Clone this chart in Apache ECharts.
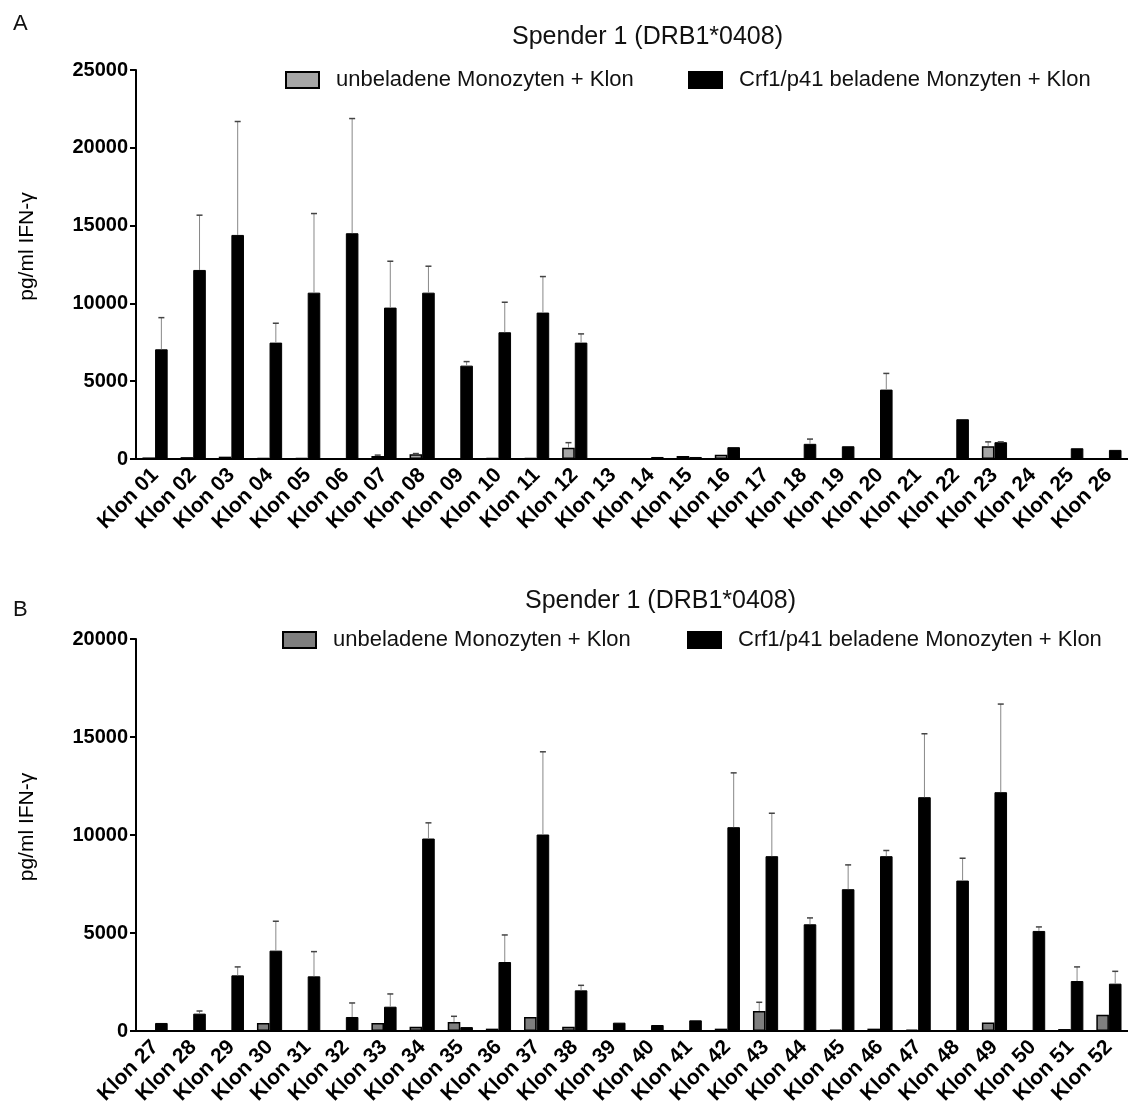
<!DOCTYPE html>
<html>
<head>
<meta charset="utf-8">
<script src="https://cdn.jsdelivr.net/npm/echarts@6/dist/echarts.min.js"></script>
<style>
  html, body { margin: 0; padding: 0; background: #fff; }
  #chart { width: 1128px; height: 1111px; }
</style>
</head>
<body>
<div id="chart"></div>
<script>
// Panel A: Klon 01 - 26
const categoriesA = ['Klon 01','Klon 02','Klon 03','Klon 04','Klon 05','Klon 06','Klon 07','Klon 08','Klon 09','Klon 10','Klon 11','Klon 12','Klon 13',
  'Klon 14','Klon 15','Klon 16','Klon 17','Klon 18','Klon 19','Klon 20','Klon 21','Klon 22','Klon 23','Klon 24','Klon 25','Klon 26'];
const grayA = [100,120,150,50,80,30,200,300,0,60,80,730,0,30,200,280,0,0,0,0,0,10,820,0,40,0];
const grayUpperA = [null,null,null,null,null,null,250,350,null,null,null,1050,null,null,null,null,null,null,null,null,null,null,1100,null,null,null];
const blackA = [7050,12150,14400,7480,10690,14510,9730,10690,6000,8145,9410,7480,0,130,130,760,0,975,820,4460,0,2555,1080,0,690,585];
const blackUpperA = [9085,15670,21690,8725,15775,21880,12710,12390,6260,10075,11725,8040,null,null,null,null,null,1280,null,5500,null,null,1100,null,null,null];

// Panel B: Klon 27 - 52
const categoriesB = ['Klon 27','Klon 28','Klon 29','Klon 30','Klon 31','Klon 32','Klon 33','Klon 34','Klon 35','Klon 36','Klon 37','Klon 38','Klon 39',
  'Klon 40','Klon 41','Klon 42','Klon 43','Klon 44','Klon 45','Klon 46','Klon 47','Klon 48','Klon 49','Klon 50','Klon 51','Klon 52'];
const grayB = [0,0,0,410,0,0,410,220,460,120,715,220,0,0,0,120,1020,0,70,120,70,0,440,0,100,835];
const grayUpperB = [null,null,null,null,null,null,null,null,750,null,null,null,null,null,null,null,1465,null,null,null,null,null,null,null,null,null];
const blackB = [410,885,2840,4100,2790,715,1240,9820,200,3520,10025,2075,425,306,545,10400,8920,5445,7235,8920,11930,7675,12185,5105,2550,2415];
const blackUpperB = [null,1020,3270,5600,4050,1430,1890,10620,null,4900,14245,2330,null,null,null,13170,11110,5770,8475,9210,15165,8815,16680,5310,3270,3045];

const titleText = 'Spender 1 (DRB1*0408)';
const yName = 'pg/ml IFN-γ';
const nameGrayA = 'unbeladene Monozyten + Klon';
const nameBlackA = 'Crf1/p41 beladene Monzyten + Klon';
const nameGrayB = 'unbeladene Monozyten + Klon ';
const nameBlackB = 'Crf1/p41 beladene Monozyten + Klon';

const FONT = '"Liberation Sans", Arial, sans-serif';

function errData(upper, means) {
  const out = [];
  upper.forEach((u, i) => { if (u != null) out.push([i, means[i], u]); });
  return out;
}

// side: -1 gray (left bar), +1 black (right bar)
function errRender(side) {
  return function (params, api) {
    const i = api.value(0);
    const lo = api.coord([i, api.value(1)]);
    const hi = api.coord([i, api.value(2)]);
    const bw = api.size([1, 0])[0];
    const x = lo[0] + side * bw * 0.165;
    return {
      type: 'group',
      children: [
        { type: 'line', shape: { x1: x, y1: lo[1], x2: x, y2: hi[1] }, style: { stroke: '#888', lineWidth: 1 } },
        { type: 'line', shape: { x1: x - 3, y1: hi[1], x2: x + 3, y2: hi[1] }, style: { stroke: '#444', lineWidth: 1.5 } }
      ]
    };
  };
}

function xAxisFor(cats, gridIndex) {
  return {
    type: 'category',
    gridIndex: gridIndex,
    data: cats,
    axisLine: { lineStyle: { color: '#000', width: 2 } },
    axisTick: { alignWithLabel: true, length: 6, lineStyle: { color: '#000', width: 2 } },
    axisLabel: { interval: 0, rotate: 45, margin: 13, color: '#000', fontFamily: FONT, fontWeight: 'bold', fontSize: 21 }
  };
}

function yAxisFor(max, gridIndex, namePad) {
  return {
    type: 'value',
    gridIndex: gridIndex,
    min: 0,
    max: max,
    interval: 5000,
    name: yName,
    nameLocation: 'middle',
    nameGap: 98,
    nameTextStyle: { color: '#000', fontFamily: FONT, fontSize: 21, padding: [0, 0, 0, namePad] },
    splitLine: { show: false },
    axisLine: { show: true, lineStyle: { color: '#000', width: 2 } },
    axisTick: { show: true, length: 6, lineStyle: { color: '#000', width: 2 } },
    axisLabel: {
      color: '#000', fontFamily: FONT, fontWeight: 'bold', fontSize: 20, margin: 8,
      formatter: v => String(v)
    }
  };
}

function legendFor(name, left, top) {
  return {
    data: [name],
    left: left,
    top: top,
    icon: 'rect',
    itemWidth: 33,
    itemHeight: 16,
    selectedMode: false,
    textStyle: { color: '#111', fontFamily: FONT, fontSize: 22, padding: [0, 0, 0, 12] }
  };
}

const option = {
  animation: false,
  backgroundColor: '#fff',
  title: [
    { text: 'A', left: 8, top: 8, textStyle: { fontFamily: FONT, fontWeight: 'normal', fontSize: 22, color: '#111' } },
    { text: titleText, left: 507, top: 20, textStyle: { fontFamily: FONT, fontWeight: 'normal', fontSize: 25, color: '#111' } },
    { text: 'B', left: 8, top: 594, textStyle: { fontFamily: FONT, fontWeight: 'normal', fontSize: 22, color: '#111' } },
    { text: titleText, left: 520, top: 584, textStyle: { fontFamily: FONT, fontWeight: 'normal', fontSize: 25, color: '#111' } }
  ],
  legend: [
    legendFor(nameGrayA, 280, 64),
    legendFor(nameBlackA, 683, 64),
    legendFor(nameGrayB, 277, 624),
    legendFor(nameBlackB, 682, 624)
  ],
  grid: [
    { left: 136, right: -5, top: 70, height: 389 },
    { left: 136, right: -5, top: 639, height: 392 }
  ],
  xAxis: [xAxisFor(categoriesA, 0), xAxisFor(categoriesB, 1)],
  yAxis: [yAxisFor(25000, 0, 36), yAxisFor(20000, 1, 16)],
  series: [
    {
      name: nameGrayA, type: 'bar', xAxisIndex: 0, yAxisIndex: 0, data: grayA,
      barWidth: '33%', barGap: '0%',
      itemStyle: { color: '#a6a6a6', borderColor: '#000', borderWidth: 1.5 }
    },
    {
      name: nameBlackA, type: 'bar', xAxisIndex: 0, yAxisIndex: 0, data: blackA,
      barWidth: '33%', barGap: '0%',
      itemStyle: { color: '#000', borderColor: '#000', borderWidth: 1 }
    },
    {
      name: nameGrayB, type: 'bar', xAxisIndex: 1, yAxisIndex: 1, data: grayB,
      barWidth: '33%', barGap: '0%',
      itemStyle: { color: '#7f7f7f', borderColor: '#000', borderWidth: 1.5 }
    },
    {
      name: nameBlackB, type: 'bar', xAxisIndex: 1, yAxisIndex: 1, data: blackB,
      barWidth: '33%', barGap: '0%',
      itemStyle: { color: '#000', borderColor: '#000', borderWidth: 1 }
    },
    { type: 'custom', xAxisIndex: 0, yAxisIndex: 0, z: 3, renderItem: errRender(-1), data: errData(grayUpperA, grayA) },
    { type: 'custom', xAxisIndex: 0, yAxisIndex: 0, z: 3, renderItem: errRender(1), data: errData(blackUpperA, blackA) },
    { type: 'custom', xAxisIndex: 1, yAxisIndex: 1, z: 3, renderItem: errRender(-1), data: errData(grayUpperB, grayB) },
    { type: 'custom', xAxisIndex: 1, yAxisIndex: 1, z: 3, renderItem: errRender(1), data: errData(blackUpperB, blackB) }
  ]
};

const chart = echarts.init(document.getElementById('chart'));
chart.setOption(option);
</script>
</body>
</html>
